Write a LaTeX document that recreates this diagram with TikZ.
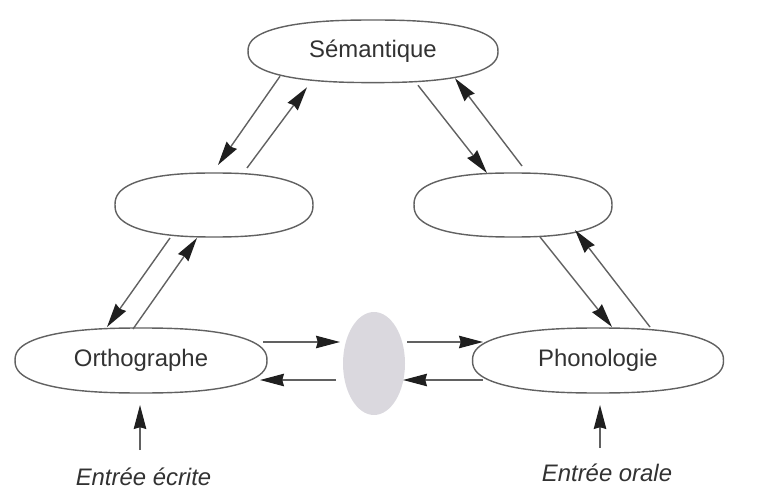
\documentclass[tikz,border=0pt]{standalone}
\usepackage{fontspec}
\setmainfont{Liberation Sans}
\usetikzlibrary{arrows.meta,calc,shapes.geometric}
\definecolor{gfill}{RGB}{218,216,222}
\definecolor{txt}{RGB}{50,50,50}
\begin{document}
\begin{tikzpicture}[x=0.02cm,y=-0.02cm,
  lbl/.style={inner sep=0pt,text=txt,font=\fontsize{13.6}{16}\selectfont},
  inlbl/.style={inner sep=0pt,text=txt,font=\fontsize{13.6}{16}\selectfont\itshape},
  outline/.style={draw=black!62,line width=0.8pt},
  conn/.style={draw=black!62,line width=0.8pt,-{Stealth[length=0.48cm,width=0.25cm,inset=0.035cm,color=black!88]}},
  blob/.style={ellipse,fill=gfill,draw=none,minimum width=1.24cm,minimum height=2.06cm,inner sep=0pt}]
\useasboundingbox (0,0) rectangle (780,489);
% nodes
\node[lbl] (sem)  at (373,51.3) {Sémantique};
\node[lbl] (lm)   at (214,205) {};
\node[lbl] (rm)   at (513,205) {};
\node[lbl] (orth) at (141,360.5) {Orthographe};
\node[lbl] (phon) at (598,360.5) {Phonologie};
\node[blob] (gray) at (374,363.5) {};
\node[inlbl] (ecr) at (143.5,477) {Entrée écrite};
\node[inlbl] (orl) at (607,473) {Entrée orale};
% outlines (slightly blunt ellipses)
\foreach \n/\a/\b in {sem/125/31.3, lm/99/32, rm/99/32, orth/126/32.5, phon/125.5/32.5}{
  \draw[outline,shift={(\n.center)}] plot[smooth cycle,domain=0.5:357.5,samples=120,variable=\t]
    ({\a*cos(\t)/abs(cos(\t))^(0.18)},{\b*sin(\t)/abs(sin(\t))^(0.18)});
}
% connectors
\draw[conn] ($(sem)+(-93,25)$) -- ($(lm)+(4,-40)$);
\draw[conn] ($(lm)+(33,-37)$) -- ($(sem)+(-66,36)$);
\draw[conn] ($(sem)+(45,34)$) -- ($(rm)+(-26,-32)$);
\draw[conn] ($(rm)+(9,-39)$) -- ($(sem)+(82,27)$);
\draw[conn] ($(lm)+(-44,33)$) -- ($(orth)+(-34,-33.5)$);
\draw[conn] ($(orth)+(-8,-31.5)$) -- ($(lm)+(-17,33)$);
\draw[conn] ($(rm)+(27,32)$) -- ($(phon)+(14,-33.5)$);
\draw[conn] ($(phon)+(52,-33.5)$) -- ($(rm)+(62,25)$);
\draw[conn] ($(orth)+(122,-18.5)$) -- ($(gray)+(-34,-21.5)$);
\draw[conn] ($(gray)+(-38,16.5)$) -- ($(orth)+(119,19.5)$);
\draw[conn] ($(gray)+(33,-21.5)$) -- ($(phon)+(-115,-18.5)$);
\draw[conn] ($(phon)+(-115,19.5)$) -- ($(gray)+(29,16.5)$);
\draw[conn] ($(ecr)+(-3.5,-27)$) -- ($(orth)+(-1,44.5)$);
\draw[conn] ($(orl)+(-7,-25)$) -- ($(phon)+(2,44.5)$);
\end{tikzpicture}
\end{document}
